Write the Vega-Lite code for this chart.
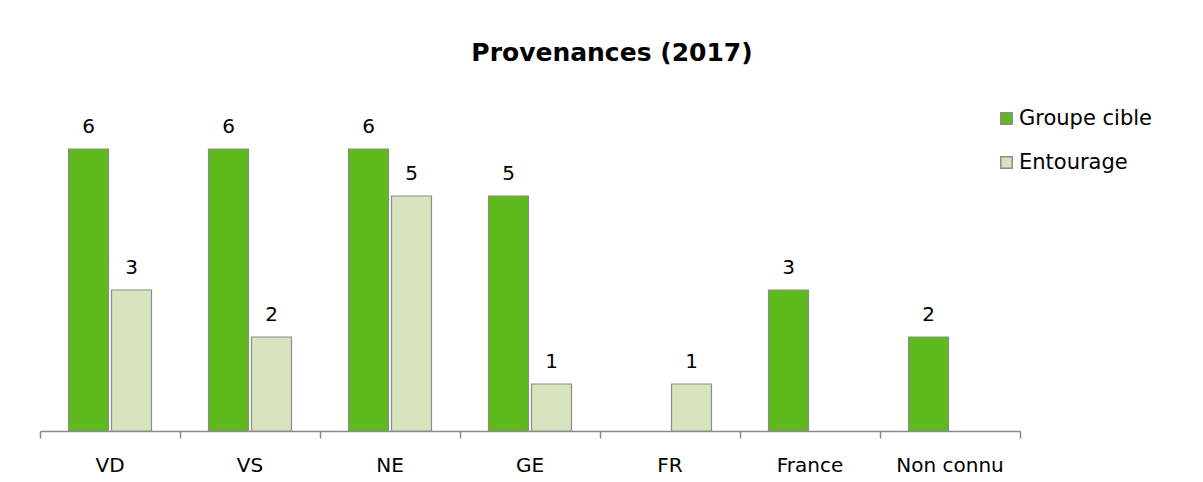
{
  "$schema": "https://vega.github.io/schema/vega-lite/v6.json",
  "width": 980,
  "height": 329,
  "autosize": {"type": "none"},
  "padding": {"left": 40, "top": 102, "right": 183, "bottom": 51},
  "background": "white",
  "title": {
    "text": "Provenances (2017)",
    "font": "DejaVu Sans",
    "fontSize": 25,
    "fontWeight": "bold",
    "color": "#000000",
    "anchor": "middle",
    "frame": "group",
    "dx": 82,
    "baseline": "alphabetic",
    "offset": 16
  },
  "config": {
    "view": {"stroke": null},
    "font": "DejaVu Sans"
  },
  "data": {
    "values": [
      {"region": "VD", "groupe": "Groupe cible", "n": 6},
      {"region": "VD", "groupe": "Entourage", "n": 3},
      {"region": "VS", "groupe": "Groupe cible", "n": 6},
      {"region": "VS", "groupe": "Entourage", "n": 2},
      {"region": "NE", "groupe": "Groupe cible", "n": 6},
      {"region": "NE", "groupe": "Entourage", "n": 5},
      {"region": "GE", "groupe": "Groupe cible", "n": 5},
      {"region": "GE", "groupe": "Entourage", "n": 1},
      {"region": "FR", "groupe": "Entourage", "n": 1},
      {"region": "France", "groupe": "Groupe cible", "n": 3},
      {"region": "Non connu", "groupe": "Groupe cible", "n": 2}
    ]
  },
  "encoding": {
    "x": {
      "field": "region",
      "type": "nominal",
      "sort": ["VD", "VS", "NE", "GE", "FR", "France", "Non connu"],
      "scale": {"paddingInner": 0, "paddingOuter": 0},
      "axis": {
        "title": null,
        "labelAngle": 0,
        "labelFont": "DejaVu Sans",
        "labelFontSize": 20,
        "labelColor": "#000000",
        "labelPadding": 17,
        "domainColor": "#8a8a8a",
        "domainWidth": 1.5,
        "tickColor": "#8a8a8a",
        "tickWidth": 1.5,
        "tickSize": 7,
        "bandPosition": 1,
        "tickExtra": true,
        "grid": false
      }
    },
    "xOffset": {
      "field": "groupe",
      "type": "nominal",
      "sort": ["Groupe cible", "Entourage"],
      "scale": {"paddingInner": 0.07, "paddingOuter": 0.663}
    },
    "y": {
      "field": "n",
      "type": "quantitative",
      "scale": {"domain": [0, 7], "nice": false},
      "axis": null
    }
  },
  "layer": [
    {
      "mark": {"type": "bar", "stroke": "#8c8c8c", "strokeWidth": 1.2},
      "encoding": {
        "color": {
          "field": "groupe",
          "type": "nominal",
          "sort": ["Groupe cible", "Entourage"],
          "scale": {"domain": ["Groupe cible", "Entourage"], "range": ["#5fba1d", "#d8e4bd"]},
          "legend": {
            "title": null,
            "orient": "none",
            "legendX": 956,
            "legendY": 6,
            "symbolType": "square",
            "symbolSize": 130,
            "symbolStrokeColor": "#8c8c8c",
            "symbolStrokeWidth": 1.5,
            "labelFont": "DejaVu Sans",
            "labelFontSize": 21,
            "labelColor": "#000000",
            "labelOffset": 2,
            "rowPadding": 22,
            "labelLimit": 300
          }
        }
      }
    },
    {
      "mark": {"type": "text", "baseline": "alphabetic", "dy": -16, "fontSize": 20, "color": "#000000", "font": "DejaVu Sans"},
      "encoding": {
        "text": {"field": "n", "type": "quantitative"}
      }
    }
  ]
}
